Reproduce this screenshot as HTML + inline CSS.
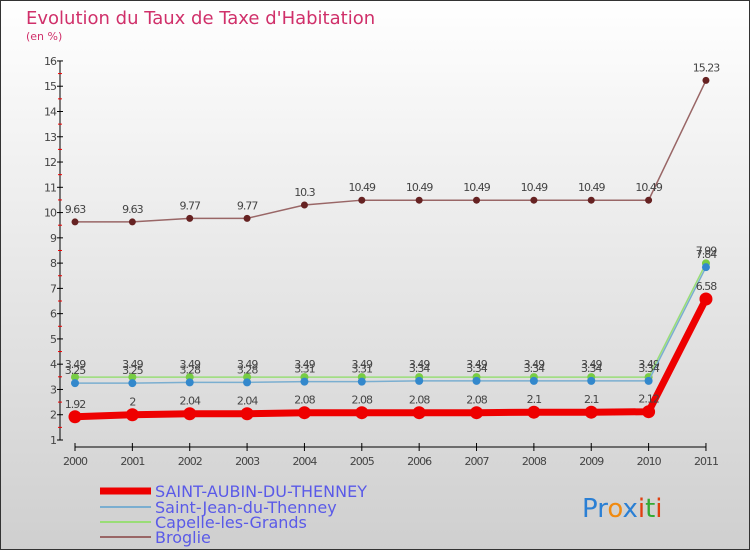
<!DOCTYPE html>
<html><head><meta charset="utf-8"><style>
body{margin:0}
svg text{font-family:"DejaVu Sans","Liberation Sans",sans-serif}
</style></head><body>
<svg width="750" height="550" xmlns="http://www.w3.org/2000/svg">
<defs><linearGradient id="bg" x1="0" y1="0" x2="0" y2="1"><stop offset="0" stop-color="#ffffff"/><stop offset="1" stop-color="#cfcfcf"/></linearGradient></defs>
<rect width="750" height="550" fill="url(#bg)"/>
<rect x="0.5" y="0.5" width="749" height="549" fill="none" stroke="#333" stroke-width="1"/>
<text x="26" y="24" font-size="18" fill="#d0306a">Evolution du Taux de Taxe d'Habitation</text>
<text x="26" y="40" font-size="11" fill="#d0306a">(en %)</text>
<g id="axes"></g><g id="series"></g>
<g>
<line x1="100" y1="491" x2="151" y2="491" stroke="#ee0000" stroke-width="7"/>
<text x="155" y="497" font-size="16" fill="#5a5ae8">SAINT-AUBIN-DU-THENNEY</text>
<line x1="100" y1="507" x2="151" y2="507" stroke="#7aaed0" stroke-width="2"/>
<text x="155" y="513" font-size="16" fill="#5a5ae8">Saint-Jean-du-Thenney</text>
<line x1="100" y1="522" x2="151" y2="522" stroke="#99dd77" stroke-width="2"/>
<text x="155" y="528" font-size="16" fill="#5a5ae8">Capelle-les-Grands</text>
<line x1="100" y1="537" x2="151" y2="537" stroke="#996666" stroke-width="2"/>
<text x="155" y="543" font-size="16" fill="#5a5ae8">Broglie</text>
</g>
<text x="582" y="517" font-size="26" font-family="Liberation Sans"><tspan fill="#2a7fd4">Pr</tspan><tspan fill="#f08a10">o</tspan><tspan fill="#2a7fd4">x</tspan><tspan fill="#e04010">i</tspan><tspan fill="#33aa33">t</tspan><tspan fill="#e04010">i</tspan></text>
</svg>
<script>
const years=["2000","2001","2002","2003","2004","2005","2006","2007","2008","2009","2010","2011"];
const yTicks=[1,2,3,4,5,6,7,8,9,10,11,12,13,14,15,16];
const saintAubin=[1.92,2,2.04,2.04,2.08,2.08,2.08,2.08,2.1,2.1,2.12,6.58];
const saintJean=[3.25,3.25,3.28,3.28,3.31,3.31,3.34,3.34,3.34,3.34,3.34,7.84];
const capelle=[3.49,3.49,3.49,3.49,3.49,3.49,3.49,3.49,3.49,3.49,3.49,7.99];
const broglie=[9.63,9.63,9.77,9.77,10.3,10.49,10.49,10.49,10.49,10.49,10.49,15.23];
const NS="http://www.w3.org/2000/svg";
const X=i=>75+i*57.36, Y=v=>440-(v-1)*25.27;
function mk(t,a,p){const e=document.createElementNS(NS,t);for(const k in a)e.setAttribute(k,a[k]);p.appendChild(e);return e;}
const ax=document.getElementById('axes');
let l=mk('line',{x1:60,y1:Y(16),x2:60,y2:Y(1),stroke:'#000'},ax);


yTicks.forEach(v=>{mk('line',{x1:57,x2:63,y1:Y(v),y2:Y(v),stroke:'#000'},ax);
 if(v<16)mk('line',{x1:58,x2:62,y1:Y(v+0.5),y2:Y(v+0.5),stroke:'#e00'},ax);
 const t=mk('text',{x:56,y:Y(v)+4,'font-size':11,'text-anchor':'end',fill:'#444','letter-spacing':'-1'},ax);t.textContent=v;
 
 });
l=mk('line',{x1:X(0),y1:447,x2:X(11),y2:447,stroke:'#000'},ax);


years.forEach((y,i)=>{mk('line',{x1:X(i),x2:X(i),y1:443,y2:451,stroke:'#000'},ax);
 const t=mk('text',{x:X(i),y:465,'font-size':11,'text-anchor':'middle',fill:'#444','letter-spacing':'-1'},ax);t.textContent=y;
 
 });
const sg=document.getElementById('series');
function series(d,name,col,w,r,dot){const g=mk('g',{},sg);
 
 
 mk('polyline',{points:d.map((v,i)=>X(i)+','+Y(v)).join(' '),fill:'none',stroke:col,'stroke-width':w},g);
 d.forEach((v,i)=>{const c=mk('circle',{cx:X(i),cy:Y(v),r:r,fill:dot},g);
  
  
  const t=mk('text',{x:X(i),y:Y(v)-9,'font-size':11,'text-anchor':'middle',fill:'#444','letter-spacing':'-1'},g);t.textContent=v;});}
series(broglie,'series-broglie','#996666',1.5,3.5,'#662222');
series(capelle,'series-capelle','#99dd77',1.5,4,'#77cc44');
series(saintJean,'series-saint-jean','#7aaed0',1.5,4,'#3388cc');
series(saintAubin,'series-saint-aubin','#ee0000',7,6.5,'#ee0000');
</script>
</body></html>
